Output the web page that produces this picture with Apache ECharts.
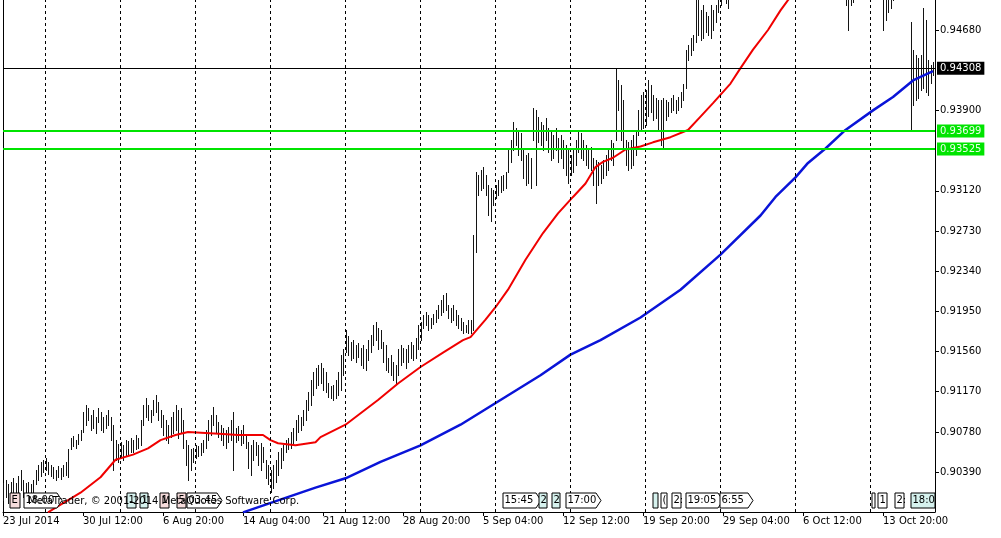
<!DOCTYPE html>
<html>
<head>
<meta charset="utf-8">
<script src="https://cdn.jsdelivr.net/npm/echarts@6.0.0/dist/echarts.min.js"></script>
<style>html,body{margin:0;padding:0;background:#fff;}#c{width:1001px;height:538px;}</style>
</head>
<body>
<div id="c"></div>
<script>
// ---- DATA (H4 bars, index 0 = 23 Jul 2014) ----
const high = [
.9028,.9031,.9027,.9029,.9033,.9028,.9035,.9041,.9031,.9028,
.9029,.9027,.9031,.9041,.9046,.9049,.9051,.9053,.9049,.9046,
.9044,.9041,.9045,.9043,.9046,.9049,.9061,.9072,.9074,.9070,
.9076,.9080,.9097,.9104,.9101,.9094,.9099,.9092,.9101,.9097,
.9092,.9094,.9099,.9092,.9085,.9070,.9066,.9068,.9065,.9070,
.9069,.9072,.9070,.9075,.9072,.9090,.9104,.9111,.9104,.9099,
.9109,.9114,.9107,.9099,.9094,.9090,.9085,.9092,.9097,.9104,
.9099,.9101,.9090,.9070,.9065,.9061,.9062,.9065,.9064,.9067,
.9070,.9080,.9090,.9094,.9102,.9094,.9088,.9085,.9082,.9080,
.9083,.9090,.9097,.9082,.9084,.9080,.9085,.9075,.9068,.9065,
.9070,.9068,.9065,.9067,.9063,.9051,.9046,.9041,.9046,.9051,
.9059,.9062,.9065,.9070,.9072,.9078,.9082,.9090,.9094,.9092,
.9099,.9109,.9117,.9128,.9136,.9140,.9143,.9145,.9140,.9136,
.9125,.9123,.9124,.9128,.9136,.9153,.9158,.9177,.9171,.9165,
.9167,.9162,.9164,.9159,.9162,.9158,.9167,.9172,.9182,.9185,
.9179,.9177,.9165,.9162,.9150,.9153,.9146,.9143,.9158,.9162,
.9159,.9158,.9162,.9165,.9162,.9169,.9182,.9185,.9191,.9194,
.9191,.9189,.9192,.9196,.9201,.9206,.9211,.9213,.9201,.9198,
.9201,.9196,.9191,.9189,.9185,.9182,.9187,.9187,.9269,.9330,
.9327,.9332,.9335,.9327,.9318,.9315,.9313,.9318,.9322,.9326,
.9327,.9330,.9352,.9361,.9379,.9373,.9371,.9368,.9352,.9347,
.9349,.9344,.9392,.9390,.9384,.9379,.9376,.9383,.9373,.9371,
.9366,.9373,.9363,.9366,.9361,.9356,.9352,.9347,.9353,.9361,
.9371,.9368,.9361,.9356,.9352,.9354,.9344,.9342,.9340,.9337,
.9342,.9347,.9352,.9361,.9358,.9431,.9419,.9415,.9400,.9361,
.9359,.9361,.9366,.9371,.9390,.9405,.9408,.9410,.9419,.9415,
.9405,.9402,.9400,.9400,.9402,.9400,.9398,.9402,.9405,.9400,
.9403,.9408,.9416,.9449,.9453,.9460,.9463,.9507,.9502,.9487,
.9492,.9485,.9482,.9492,.9487,.9492,.9507,.9512,.9517,.9512,
.9509,.9517,.9525,.9530,.9528,.9535,.9540,.9545,.9550,.9548,
.9555,.9560,.9565,.9570,.9568,.9575,.9580,.9585,.9590,.9588,
.9595,.9600,.9610,.9620,.9630,.9625,.9615,.9605,.9600,.9595,
.9590,.9585,.9580,.9578,.9575,.9570,.9568,.9565,.9560,.9555,
.9552,.9550,.9545,.9548,.9542,.9540,.9535,.9512,.9507,.9517,
.9512,.9522,.9525,.9530,.9535,.9540,.9538,.9535,.9530,.9528,
.9525,.9522,.9512,.9517,.9507,.9505,.9509,.9518,.9520,.9522,
.9525,.9520,.9515,.9476,.9449,.9444,.9441,.9444,.9489,.9478,
.9439,.9434,.9437];
const low = [
.9012,.9015,.9009,.9014,.9017,.9012,.9020,.9022,.9015,.9012,
.9016,.9012,.9017,.9027,.9031,.9035,.9039,.9041,.9037,.9035,
.9033,.9031,.9034,.9032,.9035,.9036,.9034,.9061,.9064,.9062,
.9066,.9070,.9078,.9085,.9090,.9080,.9082,.9077,.9088,.9080,
.9078,.9082,.9085,.9070,.9041,.9051,.9049,.9053,.9051,.9055,
.9056,.9059,.9059,.9061,.9062,.9065,.9085,.9092,.9090,.9088,
.9094,.9097,.9090,.9083,.9075,.9070,.9067,.9073,.9077,.9080,
.9072,.9078,.9062,.9046,.9031,.9041,.9049,.9053,.9055,.9056,
.9059,.9062,.9070,.9075,.9085,.9078,.9073,.9070,.9065,.9062,
.9068,.9070,.9041,.9068,.9070,.9065,.9067,.9062,.9043,.9036,
.9051,.9056,.9046,.9041,.9049,.9033,.9027,.9020,.9024,.9029,
.9036,.9043,.9051,.9059,.9061,.9062,.9065,.9070,.9078,.9080,
.9085,.9090,.9099,.9104,.9114,.9121,.9124,.9125,.9119,.9117,
.9112,.9111,.9109,.9111,.9114,.9119,.9133,.9156,.9153,.9148,
.9150,.9146,.9151,.9143,.9140,.9138,.9148,.9156,.9162,.9167,
.9158,.9159,.9146,.9138,.9136,.9133,.9128,.9125,.9133,.9143,
.9146,.9140,.9146,.9150,.9148,.9150,.9158,.9167,.9179,.9182,
.9177,.9179,.9183,.9185,.9189,.9191,.9194,.9196,.9189,.9185,
.9187,.9182,.9179,.9177,.9174,.9175,.9174,.9174,.9177,.9253,
.9308,.9313,.9315,.9308,.9288,.9283,.9298,.9305,.9308,.9311,
.9313,.9315,.9330,.9340,.9352,.9356,.9347,.9342,.9324,.9318,
.9320,.9315,.9361,.9318,.9359,.9356,.9352,.9361,.9350,.9342,
.9344,.9352,.9340,.9344,.9334,.9327,.9320,.9327,.9330,.9337,
.9350,.9344,.9342,.9337,.9334,.9332,.9318,.9300,.9318,.9320,
.9324,.9327,.9332,.9342,.9337,.9361,.9390,.9361,.9352,.9337,
.9332,.9334,.9337,.9347,.9366,.9371,.9373,.9376,.9385,.9388,
.9381,.9383,.9371,.9356,.9353,.9381,.9385,.9388,.9390,.9387,
.9390,.9393,.9400,.9412,.9439,.9444,.9449,.9456,.9463,.9458,
.9460,.9466,.9463,.9460,.9468,.9476,.9485,.9492,.9499,.9494,
.9489,.9500,.9502,.9508,.9510,.9512,.9518,.9522,.9528,.9530,
.9532,.9538,.9545,.9550,.9552,.9555,.9560,.9565,.9570,.9572,
.9575,.9580,.9585,.9595,.9605,.9600,.9590,.9580,.9575,.9570,
.9565,.9560,.9555,.9552,.9548,.9545,.9540,.9538,.9535,.9530,
.9525,.9522,.9520,.9518,.9515,.9510,.9505,.9492,.9468,.9492,
.9495,.9500,.9502,.9505,.9510,.9515,.9512,.9508,.9505,.9502,
.9500,.9500,.9468,.9478,.9485,.9489,.9497,.9500,.9502,.9503,
.9505,.9502,.9499,.9371,.9395,.9400,.9402,.9410,.9412,.9408,
.9405,.9417,.9424];

// Moving averages, sampled along the bar index
const maFastIdx = [18,31,39,45,52,58,63,69,74,81,88,94,104,107,110,117,125,127,137,150,158,167,176,184,187,193,197,202,209,216,222,228,233,237,240,244,249,255,260,267,274,279,284,291,295,300,306,311,314,330,350,372];
const maFastVal = [.9000,.9019,.9034,.9051,.9056,.9062,.9070,.9075,.9078,.9077,.9076,.9075,.9075,.9070,.9067,.9065,.9068,.9073,.9085,.9109,.9125,.9141,.9155,.9167,.9170,.9187,.9199,.9216,.9245,.9271,.9290,.9306,.9319,.9335,.9340,.9344,.9352,.9355,.9359,.9364,.9371,.9384,.9397,.9416,.9431,.9449,.9468,.9487,.9497,.9540,.9545,.9530];
const maSlowIdx = [96,125,137,151,167,183,199,215,227,239,255,271,287,303,309,317,322,329,337,348,356,364,372];
const maSlowVal = [.9000,.9024,.9033,.9049,.9065,.9085,.9109,.9133,.9153,.9167,.9189,.9216,.9250,.9288,.9306,.9325,.9339,.9353,.9371,.9390,.9403,.9419,.9428];

// Horizontal levels: bid line, two support lines
const levelPrices = [0.94308, 0.93699, 0.93525];
// Weekly separators (bar index of each Monday 00:00)
const weekStarts = [17,47,77,107,137,167,197,227,257,287,317,347];
// Axis ticks
const xTickIdx = [0,32,64,96,128,160,192,224,256,288,320,352];
const xTickLabels = ["23 Jul 2014","30 Jul 12:00","6 Aug 20:00","14 Aug 04:00","21 Aug 12:00","28 Aug 20:00","5 Sep 04:00","12 Sep 12:00","19 Sep 20:00","29 Sep 04:00","6 Oct 12:00","13 Oct 20:00"];
const yTicks = [0.90390,0.90780,0.91170,0.91560,0.91950,0.92340,0.92730,0.93120,0.93900,0.94680];

// ---- CHART ----
const FONT = 'DejaVu Sans';
const Y_MIN = 0.90003, Y_MAX = 0.94971;
const bars = high.map((h, i) => [i, h, low[i]]);
const pair = (idx, val) => idx.map((v, k) => [v, val[k]]);
const levelStyle = [
  {line: '#000000', width: 1, bg: '#000000', fg: '#ffffff'},
  {line: '#00e400', width: 2, bg: '#00e400', fg: '#e8ffe8'},
  {line: '#00e400', width: 2, bg: '#00e400', fg: '#e8ffe8'}
];

const chart = echarts.init(document.getElementById('c'), null, {renderer: 'canvas'});

// annotation boxes along the bottom (MetaTrader object labels)
const boxes = [
  {x: 10, w: 10, t: 'E', f: '#f6dcdc'},
  {x: 24, w: 33, t: '18:00', f: '#ffffff', a: 1},
  {x: 127, w: 9, t: '1', f: '#d6f2ee'},
  {x: 140, w: 8, t: '1', f: '#d6f2ee'},
  {x: 160, w: 9, t: '1', f: '#f6dcdc'},
  {x: 177, w: 9, t: '5', f: '#f6dcdc'},
  {x: 187, w: 30, t: '03:45', f: '#ffffff', a: 1},
  {x: 503, w: 33, t: '15:45', f: '#ffffff', a: 1},
  {x: 539, w: 8, t: '2', f: '#d6f2ee'},
  {x: 552, w: 8, t: '2', f: '#d6f2ee'},
  {x: 566, w: 30, t: '17:00', f: '#ffffff', a: 1},
  {x: 653, w: 5, t: '', f: '#d6f2ee'},
  {x: 661, w: 6, t: '(', f: '#ffffff'},
  {x: 672, w: 9, t: '2:', f: '#ffffff'},
  {x: 686, w: 32, t: '19:05', f: '#ffffff', a: 1},
  {x: 720, w: 28, t: '6:55', f: '#ffffff', a: 1},
  {x: 872, w: 3, t: '', f: '#ffffff'},
  {x: 878, w: 9, t: '1', f: '#ffffff'},
  {x: 895, w: 9, t: '2:', f: '#ffffff'},
  {x: 911, w: 24, t: '18:0', f: '#d6f2ee'}
];
const BY = 493, BH = 15;
const graphics = [];
boxes.forEach(b => {
  const pts = b.a
    ? [[b.x, BY], [b.x + b.w, BY], [b.x + b.w + 5, BY + BH / 2], [b.x + b.w, BY + BH], [b.x, BY + BH]]
    : [[b.x, BY], [b.x + b.w, BY], [b.x + b.w, BY + BH], [b.x, BY + BH]];
  graphics.push({type: 'polygon', shape: {points: pts}, style: {fill: b.f, stroke: '#000', lineWidth: 1}, z: 50, silent: true});
  if (b.t) graphics.push({type: 'text', x: b.x + 1.5, y: BY + 2, style: {text: b.t, fill: '#000', font: '10px ' + FONT}, z: 51, silent: true});
});
graphics.push({type: 'text', x: 28, y: 496, style: {text: 'MetaTrader, © 2001-2014 MetaQuotes Software Corp.', fill: '#000', font: '10px ' + FONT}, z: 52, silent: true});

chart.setOption({
  animation: false,
  backgroundColor: '#ffffff',
  textStyle: {fontFamily: FONT},
  grid: {left: 3, right: 66, top: 0, bottom: 26, containLabel: false},
  xAxis: {
    type: 'value', min: 0, max: 372.8,
    axisLine: {show: true, lineStyle: {color: '#000', width: 1}},
    axisTick: {show: true, customValues: xTickIdx, length: 4, lineStyle: {color: '#000'}},
    axisLabel: {
      customValues: xTickIdx, align: 'left', margin: 4, color: '#000', fontSize: 10, fontFamily: FONT,
      formatter: v => { const k = xTickIdx.indexOf(Math.round(v)); return k >= 0 ? xTickLabels[k] : ''; }
    },
    splitLine: {show: false}
  },
  yAxis: [{
    type: 'value', position: 'right', min: Y_MIN, max: Y_MAX, scale: true,
    axisLine: {show: true, onZero: false, lineStyle: {color: '#000', width: 1}},
    axisTick: {show: true, customValues: yTicks, length: 4, lineStyle: {color: '#000'}},
    axisLabel: {customValues: yTicks, margin: 5, color: '#000', fontSize: 10, fontFamily: FONT, formatter: v => v.toFixed(5)},
    splitLine: {show: false}
  }, {
    type: 'value', position: 'left', min: Y_MIN, max: Y_MAX, scale: true,
    axisLine: {show: true, onZero: false, lineStyle: {color: '#000', width: 1}},
    axisTick: {show: false}, axisLabel: {show: false}, splitLine: {show: false}
  }],
  series: [
    {
      type: 'line', data: [], silent: true, z: 1,
      markLine: {
        silent: true, symbol: ['none', 'none'], animation: false, precision: 5,
        label: {show: false},
        lineStyle: {color: '#000', width: 1, type: [3, 3]},
        data: weekStarts.map(v => ({xAxis: v}))
      }
    },
    {
      type: 'custom', clip: true, z: 2, silent: true,
      encode: {x: 0, y: [1, 2]},
      data: bars,
      renderItem: (params, api) => {
        const a = api.coord([api.value(0), api.value(1)]);
        const b = api.coord([api.value(0), api.value(2)]);
        const x = Math.round(a[0]) + 0.5;
        return {type: 'line', shape: {x1: x, y1: Math.round(a[1]), x2: x, y2: Math.round(b[1]) + 1}, style: {stroke: '#141414', lineWidth: 1}};
      }
    },
    {
      type: 'line', data: pair(maSlowIdx, maSlowVal), showSymbol: false, clip: true, z: 3, silent: true,
      lineStyle: {color: '#0a14d8', width: 2.5}
    },
    {
      type: 'line', data: pair(maFastIdx, maFastVal), showSymbol: false, clip: true, z: 4, silent: true,
      lineStyle: {color: '#f00000', width: 2},
      markLine: {
        silent: true, symbol: ['none', 'none'], animation: false, precision: 5,
        data: levelPrices.map((p, k) => ({
          yAxis: p,
          lineStyle: {color: levelStyle[k].line, width: levelStyle[k].width, type: 'solid'},
          label: {
            show: true, position: 'end', distance: 2,
            formatter: q => Number(q.value).toFixed(5),
            backgroundColor: levelStyle[k].bg, color: levelStyle[k].fg,
            fontSize: 10, fontFamily: FONT, padding: [2, 3, 1, 3]
          }
        }))
      }
    }
  ],
  graphic: graphics
});
</script>
</body>
</html>
